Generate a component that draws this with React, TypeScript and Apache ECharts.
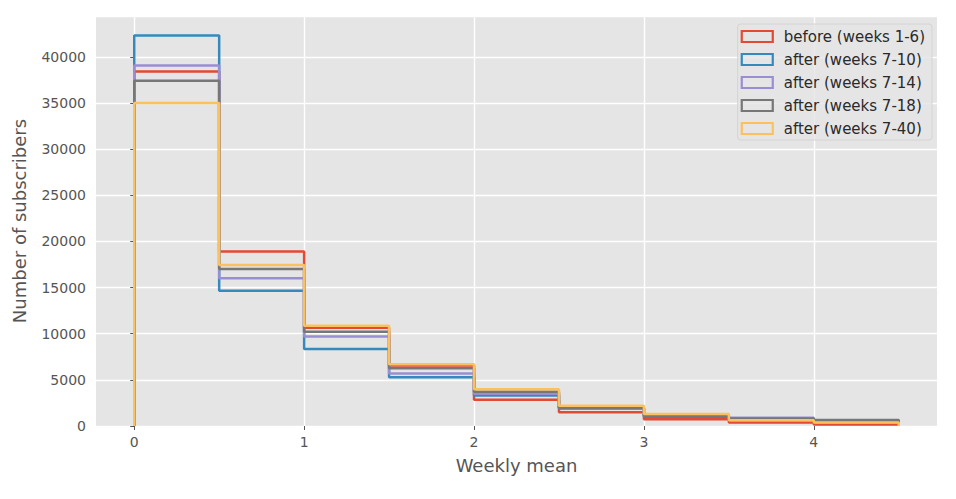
import React, { useEffect, useRef } from "react";
import * as echarts from "echarts";

const binEdges = [0, 0.5, 1, 1.5, 2, 2.5, 3, 3.5, 4, 4.5];
const seriesNames = [
  "before (weeks 1-6)",
  "after (weeks 7-10)",
  "after (weeks 7-14)",
  "after (weeks 7-18)",
  "after (weeks 7-40)",
];
const before1to6 = [38400, 18900, 10650, 6550, 2850, 1480, 720, 380, 160];
const after7to10 = [42300, 14650, 8350, 5270, 3300, 1900, 1000, 700, 500];
const after7to14 = [39050, 16000, 9700, 5700, 3500, 1950, 1150, 900, 620];
const after7to18 = [37400, 17000, 10200, 6250, 3720, 1950, 1100, 800, 650];
const after7to40 = [35000, 17450, 10870, 6690, 3980, 2200, 1300, 620, 380];
const xTicks = [0, 1, 2, 3, 4];
const colors = ["#E24A33", "#348ABD", "#988ED5", "#777777", "#FBC15E"];

function stepOutline(counts: number[]): number[][] {
  const pts: number[][] = [[binEdges[0], 0]];
  counts.forEach((c, i) => {
    pts.push([binEdges[i], c]);
    pts.push([binEdges[i + 1], c]);
  });
  pts.push([binEdges[binEdges.length - 1], 0]);
  return pts;
}

export default function App() {
  const ref = useRef<HTMLDivElement>(null);
  useEffect(() => {
    if (!ref.current) return;
    const chart = echarts.init(ref.current, undefined, { renderer: "svg" });
    const all = [before1to6, after7to10, after7to14, after7to18, after7to40];
    const font = "DejaVu Sans";
    chart.setOption({
      animation: false,
      backgroundColor: "#ffffff",
      textStyle: { fontFamily: font },
      grid: {
        left: 96,
        right: 19,
        top: 16,
        bottom: 73,
        show: true,
        backgroundColor: "#E5E5E5",
        borderWidth: 0,
      },
      legend: {
        orient: "vertical",
        right: 24,
        top: 24,
        padding: [5, 7, 4, 3],
        backgroundColor: "rgba(229,229,229,0.8)",
        borderColor: "#d4d4d4",
        borderWidth: 1,
        borderRadius: 3,
        itemWidth: 31,
        itemHeight: 11,
        itemGap: 8,
        textStyle: {
          fontFamily: font,
          fontSize: 15,
          color: "#2a2a2a",
          lineHeight: 15,
          padding: [0, 0, 0, 6],
        },
        data: seriesNames.map((n, i) => ({
          name: n,
          icon: "rect",
          itemStyle: {
            color: "rgba(0,0,0,0)",
            borderColor: colors[i],
            borderWidth: 2.2,
          },
        })),
      },
      xAxis: {
        type: "value",
        min: -0.225,
        max: 4.725,
        name: "Weekly mean",
        nameLocation: "middle",
        nameGap: 30,
        nameTextStyle: { fontFamily: font, fontSize: 18, color: "#555555" },
        axisLine: { show: false },
        axisTick: {
          show: true,
          length: 4,
          lineStyle: { color: "#555555" },
          customValues: xTicks,
        },
        axisLabel: {
          fontFamily: font,
          fontSize: 14,
          color: "#555555",
          margin: 9,
          customValues: xTicks,
        },
        splitLine: { show: true, lineStyle: { color: "#ffffff", width: 1.4 } },
      },
      yAxis: {
        type: "value",
        min: 0,
        max: 44415,
        interval: 5000,
        name: "Number of subscribers",
        nameLocation: "middle",
        nameGap: 68,
        nameTextStyle: { fontFamily: font, fontSize: 18, color: "#555555" },
        axisLine: { show: false },
        axisTick: { show: true, length: 4, lineStyle: { color: "#555555" } },
        axisLabel: {
          fontFamily: font,
          fontSize: 14,
          color: "#555555",
          margin: 10,
          showMaxLabel: false,
          formatter: (v: number) => (v % 5000 === 0 ? String(v) : ""),
        },
        splitLine: { show: true, lineStyle: { color: "#ffffff", width: 1.4 } },
      },
      series: all.map((counts, i) => ({
        name: seriesNames[i],
        type: "line",
        data: stepOutline(counts),
        showSymbol: false,
        symbol: "none",
        lineStyle: { color: colors[i], width: 2.5 },
        itemStyle: { color: colors[i] },
        z: 2 + i,
      })),
    });
    return () => chart.dispose();
  }, []);
  return <div ref={ref} style={{ width: 956, height: 499, position: "absolute", left: 0, top: 0 }} />;
}
